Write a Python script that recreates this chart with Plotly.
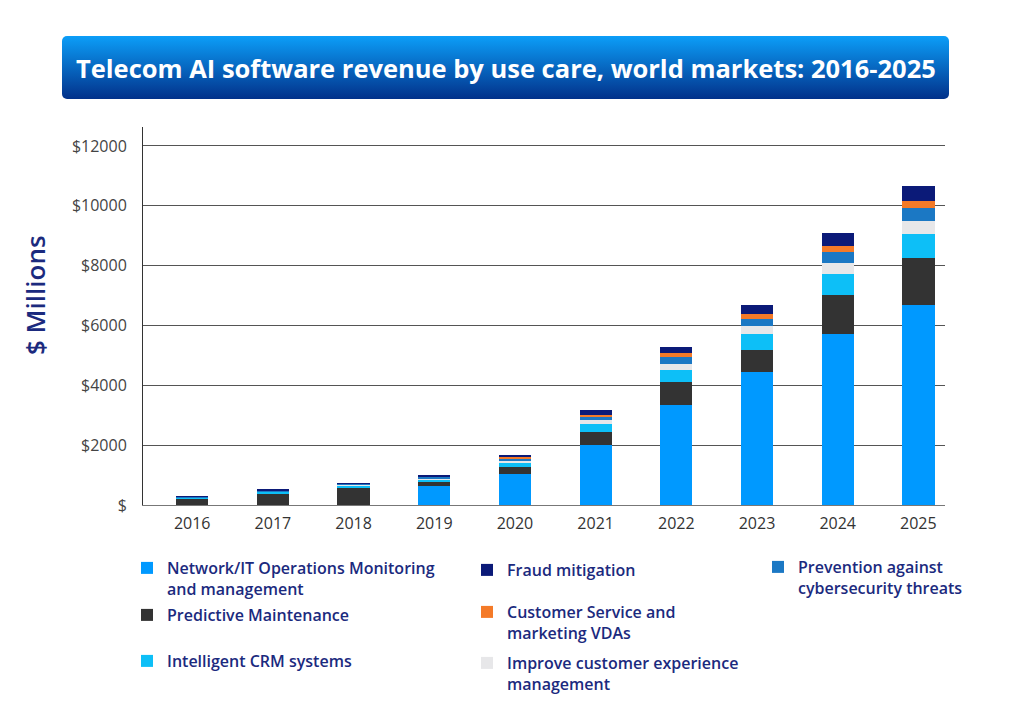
import base64

import plotly.graph_objects as go

# --------------------------------------------------
# Data ($ millions)
# --------------------------------------------------
years = ["2016", "2017", "2018", "2019", "2020", "2021", "2022", "2023", "2024", "2025"]

network_ops = [0, 0, 0, 620, 1050, 1990, 3330, 4440, 5700, 6690]
predictive = [210, 390, 555, 145, 230, 450, 770, 750, 1330, 1580]
crm = [30, 45, 90, 80, 135, 260, 400, 520, 690, 800]
cx_mgmt = [10, 25, 25, 45, 65, 130, 220, 265, 355, 430]
cyber = [40, 25, 35, 55, 85, 110, 220, 255, 365, 425]
vdas = [2, 3, 5, 15, 45, 80, 125, 160, 200, 245]
fraud = [8, 20, 25, 50, 55, 170, 225, 300, 435, 475]

y_tick_vals = [0, 2000, 4000, 6000, 8000, 10000, 12000]
y_tick_text = ["$", "$2000", "$4000", "$6000", "$8000", "$10000", "$12000"]

TITLE = "Telecom AI software revenue by use care, world markets: 2016-2025"
NAVY = "#1b2a7e"

# (name, values, colour, legend symbol position in screen px)
series = [
    ("Network/IT Operations Monitoring<br>and management", network_ops, "#0099ff", (147, 567)),
    ("Predictive Maintenance", predictive, "#333333", (147, 614)),
    ("Intelligent CRM systems", crm, "#0dbff7", (147, 660)),
    ("Improve customer experience<br>management", cx_mgmt, "#e7e7e9", (487, 662)),
    ("Prevention against<br>cybersecurity threats", cyber, "#1b78c4", (778, 566)),
    ("Customer Service and<br>marketing VDAs", vdas, "#f47a28", (487, 611)),
    ("Fraud mitigation", fraud, "#0b1a78", (487, 569)),
]

# page body has an 8px margin, so the figure is a bit smaller than the window
OFF = 8
W, H = 1024 - OFF, 722 - OFF

fig = go.Figure()

legends = {}
for i, (name, vals, color, (sx, sy)) in enumerate(series):
    key = "legend" if i == 0 else f"legend{i + 1}"
    fig.add_trace(
        go.Bar(
            x=years,
            y=vals,
            name=name,
            marker=dict(color=color, line=dict(width=0)),
            width=0.4,
            legend=key,
            hovertemplate="%{x}: $%{y}M<extra></extra>",
        )
    )
    legends[key] = dict(
        xref="container",
        yref="container",
        x=(sx - 28) / W,
        y=1 - (sy - 24) / H,
        xanchor="left",
        yanchor="top",
        valign="top",
        bgcolor="rgba(0,0,0,0)",
        font=dict(family="Open Sans", size=16, color=NAVY, weight=600),
    )

# gradient title banner as an inline svg
svg = (
    '<svg xmlns="http://www.w3.org/2000/svg" width="887" height="63">'
    '<defs><linearGradient id="g" x1="0" y1="0" x2="0" y2="1">'
    '<stop offset="0" stop-color="#0c9ef8"/>'
    '<stop offset="1" stop-color="#02318a"/>'
    "</linearGradient></defs>"
    '<rect x="0" y="0" width="887" height="63" rx="5" ry="5" fill="url(#g)"/>'
    "</svg>"
)
banner = "data:image/svg+xml;base64," + base64.b64encode(svg.encode()).decode()

# plot area in screen px
L, R, T, B = 143, 945, 127, 505
pw, ph = R - L, B - T


def px_x(v):
    return (v - L) / pw


def px_y(v):
    return (B - v) / ph


fig.update_layout(
    width=W,
    height=H,
    barmode="stack",
    paper_bgcolor="white",
    plot_bgcolor="white",
    font=dict(family="Open Sans", color="#333333"),
    margin=dict(l=L - OFF, r=1024 - R, t=T - OFF, b=722 - B, pad=0, autoexpand=False),
    showlegend=True,
    xaxis=dict(
        type="category",
        range=[-0.61, 9.33],
        showgrid=False,
        showline=True,
        linecolor="#777777",
        linewidth=1,
        ticks="",
        tickfont=dict(size=16, color="#333333"),
        ticklabelstandoff=4,
    ),
    yaxis=dict(
        range=[0, 12633],
        tickvals=y_tick_vals,
        ticktext=y_tick_text,
        showgrid=True,
        gridcolor="#555555",
        gridwidth=1,
        zeroline=False,
        showline=True,
        linecolor="#333333",
        linewidth=1,
        ticks="",
        tickfont=dict(size=16, color="#444444"),
        ticklabelstandoff=12,
    ),
    images=[
        dict(
            source=banner,
            xref="paper",
            yref="paper",
            x=px_x(62),
            y=px_y(36),
            sizex=(949 - 62) / pw,
            sizey=(99 - 36) / ph,
            sizing="stretch",
            xanchor="left",
            yanchor="top",
            layer="above",
        )
    ],
    annotations=[
        dict(
            text=TITLE,
            xref="paper",
            yref="paper",
            x=px_x(506),
            y=px_y(68),
            xanchor="center",
            yanchor="middle",
            showarrow=False,
            font=dict(family="Open Sans", size=25.5, color="white", weight=700),
        ),
        dict(
            text="$ Millions",
            xref="paper",
            yref="paper",
            x=px_x(35),
            y=px_y(295),
            xanchor="center",
            yanchor="middle",
            textangle=-90,
            showarrow=False,
            font=dict(family="Open Sans", size=26, color=NAVY, weight=600),
        ),
    ],
    **legends,
)

fig.write_html("out.html")
